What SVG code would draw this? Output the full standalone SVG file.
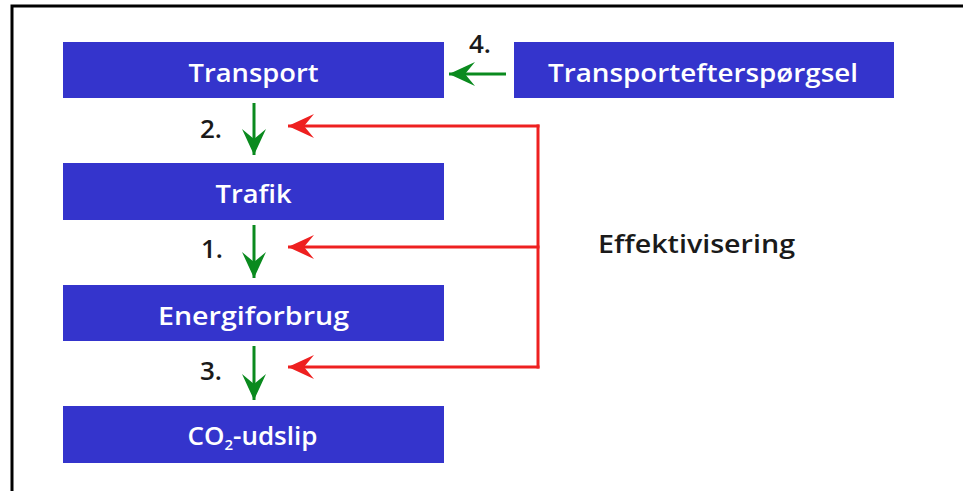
<svg xmlns="http://www.w3.org/2000/svg" width="963" height="491" viewBox="0 0 963 491">
  <style>
    .box { fill: #3434cc; }
    .bt { fill: #ffffff; font-family: "Open Sans", "Liberation Sans", sans-serif; font-weight: 600; font-size: 26px; text-anchor: middle; }
    .lbl { fill: #1a1a1a; font-family: "Open Sans", "Liberation Sans", sans-serif; font-weight: 600; font-size: 26px; }
    .g { stroke: #0a8a1e; stroke-width: 3; fill: none; }
    .r { stroke: #ee2020; stroke-width: 3; fill: none; }
  </style>
  <defs>
    <marker id="gh" markerUnits="userSpaceOnUse" markerWidth="26" markerHeight="26" viewBox="0 0 26 26" refX="26" refY="13" orient="auto">
      <path d="M26 13 L0 1 L10 13 L0 25 Z" fill="#0a8a1e"/>
    </marker>
    <marker id="rh" markerUnits="userSpaceOnUse" markerWidth="26" markerHeight="26" viewBox="0 0 26 26" refX="26" refY="13" orient="auto">
      <path d="M26 13 L0 1 L10 13 L0 25 Z" fill="#ee2020"/>
    </marker>
  </defs>
  <rect width="963" height="491" fill="#ffffff"/>
  <path d="M12 491 V6 H963" stroke="#000" stroke-width="3" fill="none"/>

  <g id="transport">
    <rect class="box" x="63" y="42" width="381" height="56"/>
    <text class="bt" x="253.5" y="82" textLength="130" lengthAdjust="spacingAndGlyphs">Transport</text>
  </g>
  <g id="transportefterspoergsel">
    <rect class="box" x="514" y="42" width="380" height="56"/>
    <text class="bt" x="703" y="82" textLength="310" lengthAdjust="spacingAndGlyphs">Transportefterspørgsel</text>
  </g>
  <g id="trafik">
    <rect class="box" x="63" y="163" width="381" height="57"/>
    <text class="bt" x="253.5" y="203" textLength="76" lengthAdjust="spacingAndGlyphs">Trafik</text>
  </g>
  <g id="energiforbrug">
    <rect class="box" x="63" y="285" width="381" height="56"/>
    <text class="bt" x="253.5" y="325" textLength="191" lengthAdjust="spacingAndGlyphs">Energiforbrug</text>
  </g>
  <g id="co2-udslip">
    <rect class="box" x="63" y="406" width="381" height="57"/>
    <text class="bt" x="252.5" y="445">CO<tspan font-size="15" dy="5">2</tspan><tspan dy="-5">-udslip</tspan></text>
  </g>
  <g id="effektivisering">
    <text class="lbl" x="598" y="253" textLength="197" lengthAdjust="spacingAndGlyphs">Effektivisering</text>
  </g>

  <g id="connectors">
    <path class="g" d="M506 74 H449" marker-end="url(#gh)"/>
    <path class="g" d="M254 103 V155" marker-end="url(#gh)"/>
    <path class="g" d="M254 225 V278" marker-end="url(#gh)"/>
    <path class="g" d="M254 346 V400" marker-end="url(#gh)"/>
    <path class="r" d="M538 124.5 V368.5"/>
    <path class="r" d="M539.5 126 H288" marker-end="url(#rh)"/>
    <path class="r" d="M539.5 247 H288" marker-end="url(#rh)"/>
    <path class="r" d="M539.5 367 H288" marker-end="url(#rh)"/>
    <text class="lbl" x="222" y="138" text-anchor="end">2.</text>
    <text class="lbl" x="223" y="258" text-anchor="end">1.</text>
    <text class="lbl" x="222" y="380" text-anchor="end">3.</text>
    <text class="lbl" x="469" y="53">4.</text>
  </g>
</svg>
